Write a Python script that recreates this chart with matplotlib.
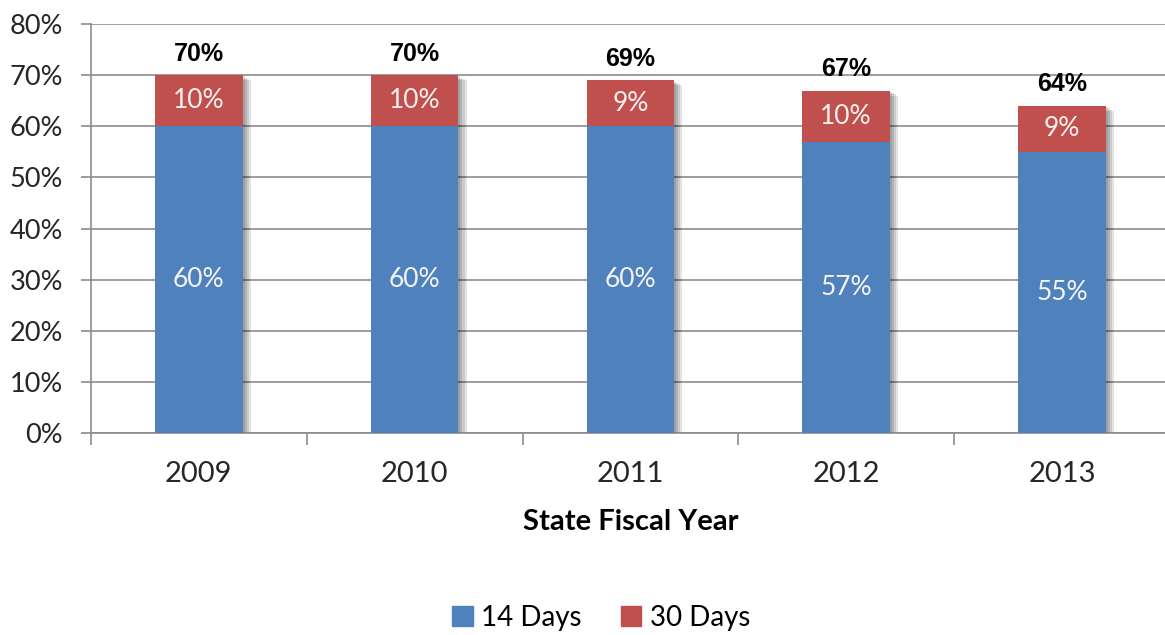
import matplotlib
matplotlib.use("Agg")
import matplotlib.pyplot as plt
import matplotlib.patheffects as pe
from matplotlib.patches import Patch
import numpy as np

years = ["2009", "2010", "2011", "2012", "2013"]
days14 = [60, 60, 60, 57, 55]
days30 = [10, 10, 9, 10, 9]
totals = [70, 70, 69, 67, 64]
y_ticks = [0, 10, 20, 30, 40, 50, 60, 70, 80]

BLUE = "#4F81BD"
RED = "#C0504D"
GRID = "#8C8C8C"
TEXT = "#262626"
FONT = "Lato"

fig = plt.figure(figsize=(11.65, 6.35), dpi=100)
ax = fig.add_axes([0.0781, 0.318, 0.926, 0.644])

x = np.arange(len(years))
width = 0.405

# soft drop shadow behind each full stacked column
shadow = [pe.SimplePatchShadow(offset=(d, -d * 0.6), shadow_rgbFace="black", alpha=0.11)
          for d in (1.5, 3, 4.5, 6)]
ax.bar(x, [a + b for a, b in zip(days14, days30)], width, color="none",
       zorder=2, path_effects=shadow)

ax.bar(x, days14, width, color=BLUE, zorder=3)
ax.bar(x, days30, width, bottom=days14, color=RED, zorder=3)

for xi, a, b, t in zip(x, days14, days30, totals):
    ax.text(xi, a / 2, f"{a}%", ha="center", va="center", color="#F4F4F4",
            fontsize=19, family=FONT, zorder=4)
    ax.text(xi, a + b / 2, f"{b}%", ha="center", va="center", color="#F8F0F0",
            fontsize=19, family=FONT, zorder=4)
    ax.annotate(f"{t}%", (xi, a + b), xytext=(0, 7), textcoords="offset points",
                ha="center", va="bottom", fontsize=18, fontweight="bold",
                family="Liberation Sans", color="black", zorder=4)

ax.set_ylim(0, 80)
ax.set_xlim(-0.5, len(years) - 0.5)
ax.set_yticks(y_ticks)
ax.set_yticklabels([f"{v}%" for v in y_ticks], family=FONT, fontsize=19.5, color=TEXT)
ax.yaxis.grid(True, color=GRID, linewidth=1.2, zorder=0)
ax.set_axisbelow(True)

ax.set_xticks(x)
ax.set_xticklabels(years, family=FONT, fontsize=21, color=TEXT)
ax.tick_params(axis="x", which="major", length=0, pad=20)
ax.set_xticks(np.arange(-0.5, len(years)), minor=True)
ax.tick_params(axis="x", which="minor", length=8.5, width=1.2, color=GRID, direction="out")
ax.tick_params(axis="y", length=7, width=1.2, color=GRID, pad=13)

for s in ["top", "right"]:
    ax.spines[s].set_visible(False)
ax.spines["left"].set_color(GRID)
ax.spines["left"].set_linewidth(1.2)
ax.spines["bottom"].set_color(GRID)
ax.spines["bottom"].set_linewidth(1.2)

ax.set_xlabel("State Fiscal Year", family=FONT, fontsize=21, fontweight="bold",
              color="black", labelpad=16)

handles = [Patch(color=BLUE, label="14 Days"), Patch(color=RED, label="30 Days")]
fig.legend(handles=handles, loc="center", bbox_to_anchor=(0.516, 0.027), ncol=2,
           frameon=False, prop={"family": FONT, "size": 20}, handlelength=0.75,
           handleheight=0.75, handletextpad=0.3, columnspacing=1.4)

fig.savefig("out.png", dpi=100, facecolor="white")
